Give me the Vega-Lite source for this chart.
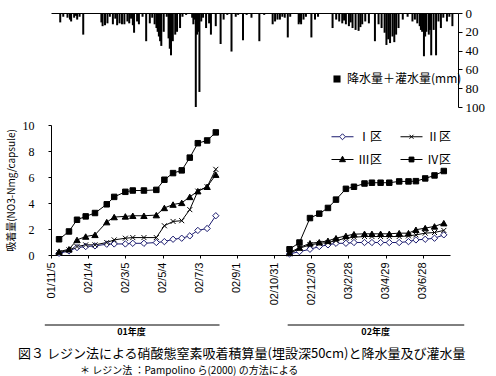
{
  "$schema": "https://vega.github.io/schema/vega-lite/v6.json",
  "padding": {"left": 5, "top": 7, "right": 5, "bottom": 0},
  "background": "white",
  "config": {
    "view": {"stroke": null},
    "axis": {"domainColor": "black", "tickColor": "black", "labelColor": "black", "titleColor": "black", "grid": false},
    "legend": {"labelColor": "black"}
  },
  "title": {
    "text": "＊ レジン法 ：Pampolino ら(2000) の方法による",
    "orient": "bottom",
    "anchor": "start",
    "frame": "group",
    "dx": 29,
    "font": "Noto Sans CJK JP",
    "fontSize": 10,
    "fontWeight": "normal",
    "color": "black",
    "offset": 5
  },
  "datasets": {
    "rain": [
      {"date": "2001-11-12", "mm": 10}, {"date": "2001-11-17", "mm": 4}, {"date": "2001-11-24", "mm": 5},
      {"date": "2001-11-28", "mm": 7}, {"date": "2001-11-30", "mm": 9}, {"date": "2001-12-05", "mm": 5},
      {"date": "2001-12-08", "mm": 3}, {"date": "2001-12-10", "mm": 7}, {"date": "2001-12-14", "mm": 4},
      {"date": "2001-12-20", "mm": 23}, {"date": "2002-01-04", "mm": 1}, {"date": "2002-01-12", "mm": 1},
      {"date": "2002-01-19", "mm": 10}, {"date": "2002-01-21", "mm": 14}, {"date": "2002-01-25", "mm": 13},
      {"date": "2002-01-29", "mm": 11}, {"date": "2002-02-02", "mm": 4}, {"date": "2002-02-07", "mm": 12},
      {"date": "2002-02-11", "mm": 6}, {"date": "2002-02-14", "mm": 13}, {"date": "2002-02-18", "mm": 11},
      {"date": "2002-02-22", "mm": 12}, {"date": "2002-02-26", "mm": 12}, {"date": "2002-03-03", "mm": 9},
      {"date": "2002-03-06", "mm": 11}, {"date": "2002-03-09", "mm": 6}, {"date": "2002-03-12", "mm": 13},
      {"date": "2002-03-14", "mm": 21}, {"date": "2002-03-19", "mm": 9}, {"date": "2002-03-22", "mm": 12},
      {"date": "2002-03-28", "mm": 4}, {"date": "2002-04-03", "mm": 30}, {"date": "2002-04-09", "mm": 11},
      {"date": "2002-04-13", "mm": 5}, {"date": "2002-04-17", "mm": 12}, {"date": "2002-04-20", "mm": 16},
      {"date": "2002-04-22", "mm": 20}, {"date": "2002-04-24", "mm": 25}, {"date": "2002-04-26", "mm": 30},
      {"date": "2002-04-28", "mm": 35}, {"date": "2002-05-02", "mm": 20}, {"date": "2002-05-07", "mm": 4},
      {"date": "2002-05-10", "mm": 27}, {"date": "2002-05-12", "mm": 38}, {"date": "2002-05-14", "mm": 45},
      {"date": "2002-05-17", "mm": 30}, {"date": "2002-05-21", "mm": 23}, {"date": "2002-05-24", "mm": 20},
      {"date": "2002-05-29", "mm": 16}, {"date": "2002-06-02", "mm": 4}, {"date": "2002-06-08", "mm": 2},
      {"date": "2002-06-18", "mm": 5}, {"date": "2002-06-20", "mm": 12}, {"date": "2002-06-22", "mm": 7},
      {"date": "2002-06-24", "mm": 100}, {"date": "2002-06-26", "mm": 23}, {"date": "2002-06-28", "mm": 20},
      {"date": "2002-06-30", "mm": 84}, {"date": "2002-07-03", "mm": 9}, {"date": "2002-07-06", "mm": 5},
      {"date": "2002-07-11", "mm": 16}, {"date": "2002-07-16", "mm": 11}, {"date": "2002-07-19", "mm": 23},
      {"date": "2002-07-27", "mm": 14}, {"date": "2002-08-04", "mm": 33}, {"date": "2002-08-09", "mm": 7},
      {"date": "2002-08-15", "mm": 2}, {"date": "2002-08-22", "mm": 41}, {"date": "2002-08-29", "mm": 4},
      {"date": "2002-09-02", "mm": 2}, {"date": "2002-09-10", "mm": 29}, {"date": "2002-09-16", "mm": 2},
      {"date": "2002-09-24", "mm": 5}, {"date": "2002-10-07", "mm": 30}, {"date": "2002-10-15", "mm": 2},
      {"date": "2002-10-29", "mm": 12}, {"date": "2002-11-02", "mm": 9}, {"date": "2002-11-06", "mm": 7},
      {"date": "2002-11-10", "mm": 7}, {"date": "2002-11-14", "mm": 4}, {"date": "2002-11-18", "mm": 5},
      {"date": "2002-11-23", "mm": 26}, {"date": "2002-11-27", "mm": 4}, {"date": "2002-12-11", "mm": 12},
      {"date": "2002-12-13", "mm": 10}, {"date": "2002-12-15", "mm": 12}, {"date": "2002-12-19", "mm": 7},
      {"date": "2002-12-23", "mm": 4}, {"date": "2003-01-01", "mm": 26}, {"date": "2003-01-07", "mm": 7},
      {"date": "2003-01-12", "mm": 4}, {"date": "2003-02-05", "mm": 16}, {"date": "2003-02-11", "mm": 7},
      {"date": "2003-02-16", "mm": 9}, {"date": "2003-02-21", "mm": 11}, {"date": "2003-02-24", "mm": 8},
      {"date": "2003-02-27", "mm": 12}, {"date": "2003-03-04", "mm": 14}, {"date": "2003-03-07", "mm": 10},
      {"date": "2003-03-10", "mm": 16}, {"date": "2003-03-15", "mm": 18}, {"date": "2003-03-20", "mm": 19},
      {"date": "2003-03-23", "mm": 15}, {"date": "2003-03-26", "mm": 12}, {"date": "2003-03-31", "mm": 9},
      {"date": "2003-04-06", "mm": 11}, {"date": "2003-04-16", "mm": 30}, {"date": "2003-04-22", "mm": 12},
      {"date": "2003-04-27", "mm": 16}, {"date": "2003-05-02", "mm": 21}, {"date": "2003-05-05", "mm": 34},
      {"date": "2003-05-08", "mm": 28}, {"date": "2003-05-11", "mm": 32}, {"date": "2003-05-15", "mm": 25},
      {"date": "2003-05-18", "mm": 31}, {"date": "2003-05-21", "mm": 23}, {"date": "2003-05-25", "mm": 16},
      {"date": "2003-06-01", "mm": 7}, {"date": "2003-06-09", "mm": 4}, {"date": "2003-06-17", "mm": 9},
      {"date": "2003-06-21", "mm": 7}, {"date": "2003-06-25", "mm": 11}, {"date": "2003-06-29", "mm": 14},
      {"date": "2003-07-01", "mm": 18}, {"date": "2003-07-03", "mm": 20}, {"date": "2003-07-06", "mm": 46},
      {"date": "2003-07-08", "mm": 25}, {"date": "2003-07-10", "mm": 20}, {"date": "2003-07-14", "mm": 23},
      {"date": "2003-07-16", "mm": 18}, {"date": "2003-07-18", "mm": 45}, {"date": "2003-07-22", "mm": 18},
      {"date": "2003-07-26", "mm": 45}, {"date": "2003-07-30", "mm": 9}, {"date": "2003-08-03", "mm": 16},
      {"date": "2003-08-07", "mm": 5}, {"date": "2003-08-13", "mm": 9}, {"date": "2003-08-17", "mm": 4},
      {"date": "2003-08-22", "mm": 14}
    ],
    "nitrate": [
      {"date": "2001-11-18", "period": "01", "Ⅰ区": 0.13, "Ⅱ区": 0.18, "Ⅲ区": 0.26, "Ⅳ区": 1.21},
      {"date": "2001-12-04", "period": "01", "Ⅰ区": 0.31, "Ⅱ区": 0.39, "Ⅲ区": 0.44, "Ⅳ区": 1.81},
      {"date": "2001-12-17", "period": "01", "Ⅰ区": 0.57, "Ⅱ区": 0.65, "Ⅲ区": 1.16, "Ⅳ区": 2.71},
      {"date": "2001-12-31", "period": "01", "Ⅰ区": 0.65, "Ⅱ区": 0.78, "Ⅲ区": 1.42, "Ⅳ区": 2.97},
      {"date": "2002-01-15", "period": "01", "Ⅰ区": 0.70, "Ⅱ区": 0.78, "Ⅲ区": 1.55, "Ⅳ区": 3.23},
      {"date": "2002-02-03", "period": "01", "Ⅰ区": 0.83, "Ⅱ区": 0.96, "Ⅲ区": 2.53, "Ⅳ区": 3.90},
      {"date": "2002-02-15", "period": "01", "Ⅰ区": 0.85, "Ⅱ区": 1.16, "Ⅲ区": 2.92, "Ⅳ区": 4.47},
      {"date": "2002-03-05", "period": "01", "Ⅰ区": 0.85, "Ⅱ区": 1.29, "Ⅲ区": 2.97, "Ⅳ区": 4.86},
      {"date": "2002-03-17", "period": "01", "Ⅰ区": 0.90, "Ⅱ区": 1.34, "Ⅲ区": 3.02, "Ⅳ区": 4.96},
      {"date": "2002-04-04", "period": "01", "Ⅰ区": 0.90, "Ⅱ区": 1.34, "Ⅲ区": 3.02, "Ⅳ区": 4.96},
      {"date": "2002-04-24", "period": "01", "Ⅰ区": 0.96, "Ⅱ区": 1.34, "Ⅲ区": 3.07, "Ⅳ区": 5.01},
      {"date": "2002-05-07", "period": "01", "Ⅰ区": 1.03, "Ⅱ区": 2.25, "Ⅲ区": 3.62, "Ⅳ区": 5.79},
      {"date": "2002-05-21", "period": "01", "Ⅰ区": 1.21, "Ⅱ区": 2.58, "Ⅲ区": 3.88, "Ⅳ区": 6.30},
      {"date": "2002-06-04", "period": "01", "Ⅰ区": 1.29, "Ⅱ区": 2.64, "Ⅲ区": 4.01, "Ⅳ区": 6.51},
      {"date": "2002-06-17", "period": "01", "Ⅰ区": 1.47, "Ⅱ区": 3.49, "Ⅲ区": 4.47, "Ⅳ区": 7.49},
      {"date": "2002-06-30", "period": "01", "Ⅰ区": 1.89, "Ⅱ区": 4.91, "Ⅲ区": 4.91, "Ⅳ区": 8.60},
      {"date": "2002-07-15", "period": "01", "Ⅰ区": 2.04, "Ⅱ区": 5.25, "Ⅲ区": 5.25, "Ⅳ区": 8.81},
      {"date": "2002-07-29", "period": "01", "Ⅰ区": 3.02, "Ⅱ区": 6.59, "Ⅲ区": 6.18, "Ⅳ区": 9.43},
      {"date": "2002-11-25", "period": "02", "Ⅰ区": 0.08, "Ⅱ区": 0.08, "Ⅲ区": 0.18, "Ⅳ区": 0.44},
      {"date": "2002-12-11", "period": "02", "Ⅰ区": 0.26, "Ⅱ区": 0.52, "Ⅲ区": 0.57, "Ⅳ区": 0.96},
      {"date": "2002-12-28", "period": "02", "Ⅰ区": 0.44, "Ⅱ区": 0.78, "Ⅲ区": 0.90, "Ⅳ区": 2.84},
      {"date": "2003-01-12", "period": "02", "Ⅰ区": 0.65, "Ⅱ区": 0.90, "Ⅲ区": 0.98, "Ⅳ区": 3.18},
      {"date": "2003-01-26", "period": "02", "Ⅰ区": 0.78, "Ⅱ区": 0.96, "Ⅲ区": 1.09, "Ⅳ区": 3.62},
      {"date": "2003-02-08", "period": "02", "Ⅰ区": 0.90, "Ⅱ区": 1.11, "Ⅲ区": 1.29, "Ⅳ区": 4.26},
      {"date": "2003-02-24", "period": "02", "Ⅰ区": 0.90, "Ⅱ区": 1.29, "Ⅲ区": 1.47, "Ⅳ区": 5.09},
      {"date": "2003-03-09", "period": "02", "Ⅰ区": 0.96, "Ⅱ区": 1.37, "Ⅲ区": 1.60, "Ⅳ区": 5.25},
      {"date": "2003-03-26", "period": "02", "Ⅰ区": 0.96, "Ⅱ区": 1.42, "Ⅲ区": 1.63, "Ⅳ区": 5.50},
      {"date": "2003-04-07", "period": "02", "Ⅰ区": 0.96, "Ⅱ区": 1.42, "Ⅲ区": 1.63, "Ⅳ区": 5.56},
      {"date": "2003-04-21", "period": "02", "Ⅰ区": 0.96, "Ⅱ区": 1.42, "Ⅲ区": 1.63, "Ⅳ区": 5.56},
      {"date": "2003-05-05", "period": "02", "Ⅰ区": 0.96, "Ⅱ区": 1.42, "Ⅲ区": 1.63, "Ⅳ区": 5.56},
      {"date": "2003-05-21", "period": "02", "Ⅰ区": 0.96, "Ⅱ区": 1.42, "Ⅲ区": 1.68, "Ⅳ区": 5.66},
      {"date": "2003-06-05", "period": "02", "Ⅰ区": 1.03, "Ⅱ区": 1.47, "Ⅲ区": 1.68, "Ⅳ区": 5.66},
      {"date": "2003-06-17", "period": "02", "Ⅰ区": 1.16, "Ⅱ区": 1.55, "Ⅲ区": 1.94, "Ⅳ区": 5.68},
      {"date": "2003-07-02", "period": "02", "Ⅰ区": 1.21, "Ⅱ区": 1.68, "Ⅲ区": 2.07, "Ⅳ区": 5.89},
      {"date": "2003-07-17", "period": "02", "Ⅰ区": 1.29, "Ⅱ区": 1.73, "Ⅲ区": 2.20, "Ⅳ区": 6.12},
      {"date": "2003-08-01", "period": "02", "Ⅰ区": 1.55, "Ⅱ区": 1.89, "Ⅲ区": 2.45, "Ⅳ区": 6.46}
    ],
    "years": [
      {"label": "01年度", "start": "2001-10-26", "end": "2002-08-04", "mid": "2002-03-15"},
      {"label": "02年度", "start": "2002-11-22", "end": "2003-09-03", "mid": "2003-04-13"}
    ]
  },
  "vconcat": [
    {
      "width": 407,
      "height": 94,
      "data": {"name": "rain"},
      "mark": {"type": "bar", "size": 2},
      "encoding": {
        "x": {
          "field": "date", "type": "temporal",
          "scale": {"type": "utc", "domain": [{"year": 2001, "month": 11, "date": 5, "utc": true}, {"year": 2003, "month": 8, "date": 23, "utc": true}]},
          "axis": {"orient": "top", "labels": false, "ticks": false, "title": null, "domain": true}
        },
        "y": {
          "field": "mm", "type": "quantitative",
          "scale": {"domain": [0, 100], "reverse": true, "nice": false},
          "axis": {"orient": "right", "values": [0, 20, 40, 60, 80, 100], "title": null, "labelFont": "Liberation Serif", "labelFontSize": 13, "tickSize": 4, "labelPadding": 3}
        },
        "color": {
          "datum": "降水量＋灌水量(mm)",
          "scale": {"range": ["black"]},
          "legend": {"orient": "none", "legendX": 280, "legendY": 60, "title": null, "symbolType": "square", "symbolSize": 50, "labelFont": "Noto Sans CJK JP", "labelFontSize": 12, "padding": 0}
        }
      }
    },
    {
      "spacing": 19,
      "vconcat": [
        {
          "width": 399,
          "height": 130,
          "data": {"name": "nitrate"},
          "transform": [{"fold": ["Ⅰ区", "Ⅱ区", "Ⅲ区", "Ⅳ区"], "as": ["zone", "value"]}],
          "encoding": {
            "x": {
              "field": "date", "type": "temporal",
              "scale": {"type": "utc", "domain": [{"year": 2001, "month": 11, "date": 5, "utc": true}, {"year": 2003, "month": 8, "date": 11, "utc": true}]},
              "axis": {
                "title": null,
                "values": [
                  {"year": 2001, "month": 11, "date": 5, "utc": true},
                  {"year": 2002, "month": 1, "date": 4, "utc": true},
                  {"year": 2002, "month": 3, "date": 5, "utc": true},
                  {"year": 2002, "month": 5, "date": 4, "utc": true},
                  {"year": 2002, "month": 7, "date": 3, "utc": true},
                  {"year": 2002, "month": 9, "date": 1, "utc": true},
                  {"year": 2002, "month": 10, "date": 31, "utc": true},
                  {"year": 2002, "month": 12, "date": 30, "utc": true},
                  {"year": 2003, "month": 2, "date": 28, "utc": true},
                  {"year": 2003, "month": 4, "date": 29, "utc": true},
                  {"year": 2003, "month": 6, "date": 28, "utc": true}
                ],
                "labelExpr": "utcFormat(datum.value, '%y/%-m/%-d')",
                "labelAngle": -90,
                "labelFont": "Liberation Sans",
                "labelFontSize": 11,
                "labelPadding": 4,
                "tickSize": 3
              }
            },
            "y": {
              "field": "value", "type": "quantitative",
              "scale": {"domain": [0, 10], "nice": false},
              "axis": {
                "values": [0, 2, 4, 6, 8, 10],
                "title": "吸着量(NO3-Nmg/capsule)",
                "titleFont": "Noto Sans CJK JP",
                "titleFontSize": 10,
                "titleFontWeight": "normal",
                "titlePadding": 6,
                "labelFont": "Liberation Serif",
                "labelFontSize": 12,
                "labelPadding": 14,
                "tickSize": 3
              }
            }
          },
          "layer": [
            {
              "mark": {"type": "line", "strokeWidth": 1},
              "encoding": {
                "detail": {"field": "period", "type": "nominal"},
                "stroke": {
                  "field": "zone", "type": "nominal",
                  "scale": {"domain": ["Ⅰ区", "Ⅱ区", "Ⅲ区", "Ⅳ区"], "range": ["#1a1a6e", "black", "black", "black"]},
                  "legend": {
                    "orient": "none", "legendX": 280, "legendY": 112,
                    "direction": "horizontal",
                    "title": null, "columns": 2, "columnPadding": 15, "rowPadding": 5,
                    "symbolSize": 484, "symbolStrokeWidth": 1,
                    "labelFont": "Noto Sans CJK JP", "labelFontSize": 12, "labelOffset": 4,
                    "padding": 0,
                    "symbolType": "M-1,0H1",
                    "encode": {
                      "symbols": {
                        "update": {
                          "shape": {"signal": "datum.value === 'Ⅰ区' ? 'M-1,0H-0.27M0.27,0H1M0,-0.27L0.27,0L0,0.27L-0.27,0Z' : datum.value === 'Ⅱ区' ? 'M-1,0H1M-0.18,-0.18L0.18,0.18M-0.18,0.18L0.18,-0.18' : datum.value === 'Ⅲ区' ? 'M-1,0H1M0,-0.3L0.27,0.2L-0.27,0.2Z' : 'M-1,0H1M-0.22,-0.22H0.22V0.22H-0.22Z'"},
                          "fill": {"signal": "datum.value === 'Ⅰ区' ? 'white' : 'black'"}
                        }
                      }
                    }
                  }
                }
              }
            },
            {
              "transform": [{"filter": "datum.zone === 'Ⅰ区'"}],
              "mark": {"type": "point", "shape": "diamond", "filled": true, "fill": "white", "stroke": "#1a1a6e", "strokeWidth": 1, "size": 40, "opacity": 1}
            },
            {
              "transform": [{"filter": "datum.zone === 'Ⅱ区'"}],
              "mark": {"type": "point", "shape": "M-1,-1L1,1M-1,1L1,-1", "filled": false, "stroke": "black", "strokeWidth": 1, "size": 25, "opacity": 1}
            },
            {
              "transform": [{"filter": "datum.zone === 'Ⅲ区'"}],
              "mark": {"type": "point", "shape": "triangle-up", "filled": true, "fill": "black", "stroke": "black", "strokeWidth": 1, "size": 40, "opacity": 1}
            },
            {
              "transform": [{"filter": "datum.zone === 'Ⅳ区'"}],
              "mark": {"type": "point", "shape": "square", "filled": true, "fill": "black", "stroke": "black", "strokeWidth": 1, "size": 30, "opacity": 1}
            }
          ]
        },
        {
          "width": 399,
          "height": 12,
          "data": {"name": "years"},
          "title": {
            "text": "図３ レジン法による硝酸態窒素吸着積算量(埋設深50cm)と降水量及び灌水量",
            "orient": "bottom",
            "anchor": "start",
            "frame": "group",
            "dx": -33,
            "font": "Noto Sans CJK JP",
            "fontSize": 13,
            "fontWeight": "normal",
            "color": "black",
            "offset": 11
          },
          "encoding": {
            "x": {
              "type": "temporal",
              "scale": {"type": "utc", "domain": [{"year": 2001, "month": 11, "date": 5, "utc": true}, {"year": 2003, "month": 8, "date": 11, "utc": true}]},
              "axis": null
            }
          },
          "layer": [
            {
              "mark": {"type": "rule", "color": "black", "strokeWidth": 1},
              "encoding": {
                "x": {"field": "start", "type": "temporal"},
                "x2": {"field": "end"},
                "y": {"datum": 1, "type": "quantitative", "scale": {"domain": [0, 1]}, "axis": null}
              }
            },
            {
              "mark": {"type": "text", "font": "Noto Sans CJK JP", "fontSize": 9, "fontWeight": "bold", "baseline": "middle", "color": "black"},
              "encoding": {
                "x": {"field": "mid", "type": "temporal"},
                "y": {"datum": 0.45, "type": "quantitative", "scale": {"domain": [0, 1]}, "axis": null},
                "text": {"field": "label"}
              }
            }
          ]
        }
      ]
    }
  ],
  "spacing": 5
}
